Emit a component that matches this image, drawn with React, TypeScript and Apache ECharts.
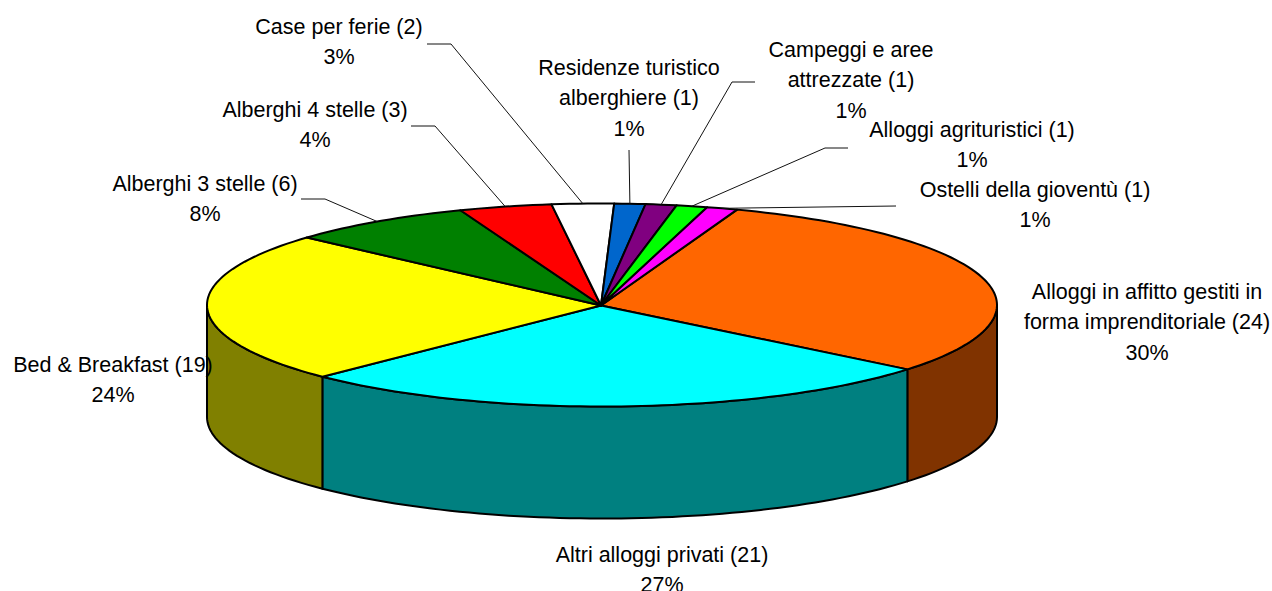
import React, { useEffect, useRef } from "react";
import * as echarts from "echarts";

const categories = [
  "Alloggi in affitto gestiti in\nforma imprenditoriale (24)",
  "Altri alloggi privati (21)",
  "Bed & Breakfast (19)",
  "Alberghi 3 stelle (6)",
  "Alberghi 4 stelle (3)",
  "Case per ferie (2)",
  "Residenze turistico\nalberghiere (1)",
  "Campeggi e aree\nattrezzate (1)",
  "Alloggi agrituristici (1)",
  "Ostelli della gioventù (1)",
];
const counts = [24, 21, 19, 6, 3, 2, 1, 1, 1, 1];
const percents = ["30%", "27%", "24%", "8%", "4%", "3%", "1%", "1%", "1%", "1%"];
const topColors = ["#FF6600", "#00FFFF", "#FFFF00", "#008000", "#FF0000", "#FFFFFF", "#0066CC", "#800080", "#00FF00", "#FF00FF"];
const wallColors = ["#803300", "#008080", "#808000", "#004000", "#800000", "#808080", "#003366", "#400040", "#008000", "#800080"];

// label centre (x, y of the block centre)
const labelCentres = [
  [1147, 322], [662, 570], [113, 380], [205, 199], [315, 125],
  [339, 42], [629, 98], [851, 80], [972, 145], [1035, 205],
];
// leader: outer end and elbow, null when the label has none
const leaders: (number[][] | null)[] = [
  null, null, null,
  [[301, 199], [325, 199]],
  [[411, 126], [435, 126]],
  [[427, 44], [451, 44]],
  [[629, 150]],
  [[755, 82], [732, 82]],
  [[848, 148], [825, 148]],
  [[896, 206]],
];

const CX = 602, CY = 305, RX = 395, RY = 101.5, DEPTH = 112, START = 20;
const APEX = [601, 305.5];
const total = counts.reduce((a, b) => a + b, 0);

const pt = (deg: number, dy = 0) => {
  const r = (deg * Math.PI) / 180;
  return [CX + RX * Math.sin(r), CY - RY * Math.cos(r) + dy];
};
const arc = (a: number, b: number, dy = 0) => {
  const n = Math.max(2, Math.ceil(Math.abs(b - a) / 1.5));
  const out: number[][] = [];
  for (let i = 0; i <= n; i++) out.push(pt(a + ((b - a) * i) / n, dy));
  return out;
};
const span = (i: number) => {
  let a = START;
  for (let k = 0; k < i; k++) a += (counts[k] / total) * 360;
  return [a, a + (counts[i] / total) * 360];
};

const seriesData = counts.map((v) => [v]);

export default function App() {
  const ref = useRef<HTMLDivElement>(null);
  useEffect(() => {
    document.body.style.margin = "0";
    const chart = echarts.init(ref.current!, undefined, { renderer: "svg" });
    chart.setOption({
      animation: false,
      backgroundColor: "#fff",
      series: [
        {
          type: "custom",
          coordinateSystem: "none",
          silent: true,
          z: 1,
          data: seriesData,
          renderItem: (p: any) => {
            const [a, b] = span(p.dataIndex);
            const lo = Math.max(a, 90), hi = Math.min(b, 270);
            if (hi <= lo) return { type: "group", children: [] };
            const points = [...arc(lo, hi), ...arc(hi, lo, DEPTH)];
            return {
              type: "polygon",
              shape: { points },
              style: { fill: wallColors[p.dataIndex], stroke: "#000", lineWidth: 2, lineJoin: "round" },
            };
          },
        },
        {
          type: "custom",
          coordinateSystem: "none",
          silent: true,
          z: 2,
          data: seriesData,
          renderItem: (p: any) => {
            const [a, b] = span(p.dataIndex);
            return {
              type: "polygon",
              shape: { points: [APEX, ...arc(a, b)] },
              style: { fill: topColors[p.dataIndex], stroke: "#000", lineWidth: 2, lineJoin: "round" },
            };
          },
        },
        {
          type: "custom",
          coordinateSystem: "none",
          silent: true,
          z: 3,
          data: seriesData,
          renderItem: (p: any) => {
            const i = p.dataIndex;
            const [a, b] = span(i);
            const children: any[] = [];
            const l = leaders[i];
            if (l) {
              children.push({
                type: "polyline",
                shape: { points: [...l, pt((a + b) / 2)] },
                style: { fill: "none", stroke: "#111", lineWidth: 1 },
              });
            }
            children.push({
              type: "text",
              style: {
                x: labelCentres[i][0],
                y: labelCentres[i][1],
                text: categories[i] + "\n" + percents[i],
                fill: "#000",
                font: '21.5px "Liberation Sans", Arial, sans-serif',
                lineHeight: 30.5,
                align: "center",
                verticalAlign: "middle",
              },
            });
            return { type: "group", children };
          },
        },
      ],
    });
    return () => chart.dispose();
  }, []);
  return <div ref={ref} style={{ position: "absolute", left: 0, top: 0, width: 1272, height: 591 }} />;
}
